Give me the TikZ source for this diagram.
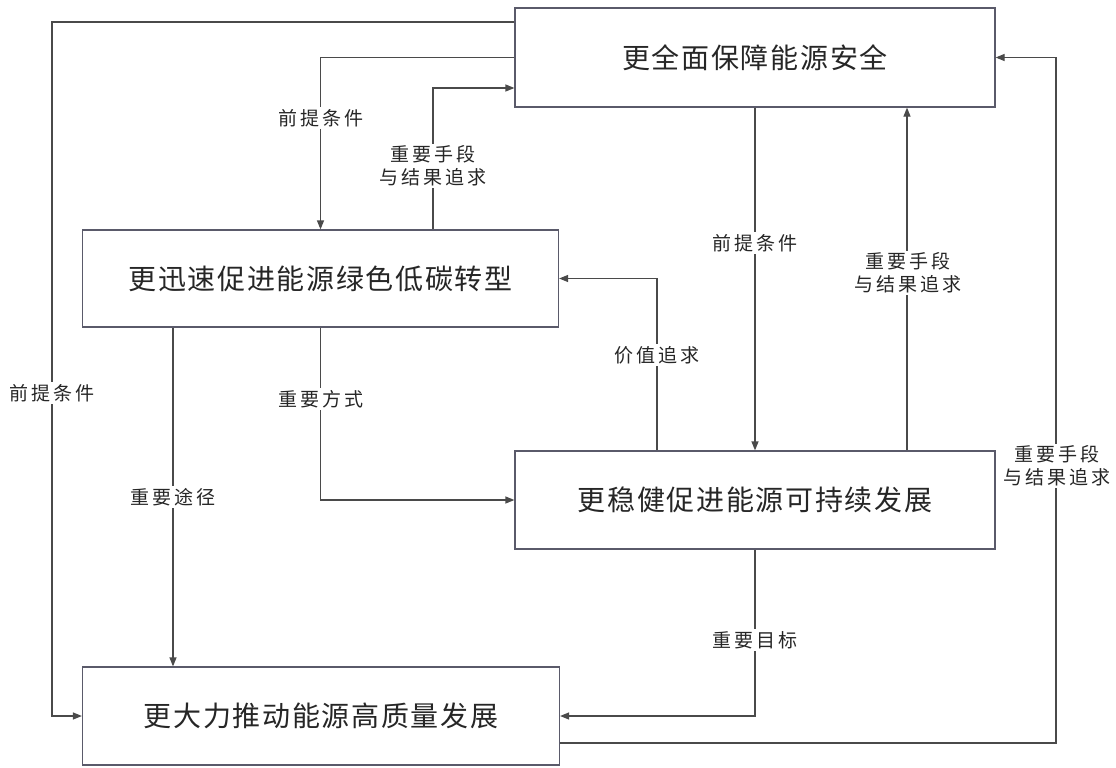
\documentclass[tikz,border=0pt]{standalone}
\usepackage{fontspec}
\usetikzlibrary{arrows.meta,calc}
\newfontfamily\cjkbig[LetterSpace=6]{Noto Sans CJK SC}
\newfontfamily\cjksmall[LetterSpace=15]{Noto Sans CJK SC}
\definecolor{linec}{HTML}{4A4A4A}
\definecolor{boxc}{HTML}{5A5A6A}
\definecolor{textc}{HTML}{262626}
\tikzset{
  box/.style={draw=boxc, line width=1.2pt, rectangle, minimum width=478pt, minimum height=98pt, inner sep=0pt, text=textc, font=\cjkbig\fontsize{28pt}{32pt}\selectfont},
  lab/.style={fill=white, inner sep=2pt, text=textc, align=center, font=\cjksmall\fontsize{19pt}{23pt}\selectfont},
  arr/.style={draw=linec, line width=1.2pt, -{Triangle[length=9pt,width=7pt]}},
}
\begin{document}
\begin{tikzpicture}[x=1pt,y=-1pt]
\useasboundingbox[fill=white] (0,0) rectangle (1116,768);
\node[box, minimum width=480pt, minimum height=99pt] (A) at (755,57.5) {更全面保障能源安全};
\node[box, minimum width=476pt, minimum height=97pt] (B) at (320.5,278.5) {更迅速促进能源绿色低碳转型};
\node[box, minimum width=480pt, minimum height=98pt] (C) at (755,500) {更稳健促进能源可持续发展};
\node[box, minimum width=477pt, minimum height=98pt] (D) at (321,716) {更大力推动能源高质量发展};

% connectors
\draw[arr] (A.west |- 0,22) -- (52,22) |- (D.west);
\draw[arr] (A.west) -| (B.north);
\draw[arr] (B.north -| 433,0) |- (A.west |- 0,88);
\draw[arr] (A.south) -- (C.north);
\draw[arr] (C.north -| 907,0) -- (A.south -| 907,0);
\draw[arr] (C.north -| 657,0) |- (B.east);
\draw[arr] (B.south) |- (C.west);
\draw[arr] (B.south -| 173,0) -- (D.north -| 173,0);
\draw[arr] (C.south) |- (D.east);
\draw[arr] (D.east |- 0,743) -| (A.east -| 1056,0) -- (A.east);

% labels
\node[lab] (l1) at (52,393) {前提条件};
\node[lab] (l2) at (321,118) {前提条件};
\node[lab] (l3) at (433,166) {重要手段\\与结果追求};
\node[lab] (l4) at (755,243) {前提条件};
\node[lab] (l5) at (908,273) {重要手段\\与结果追求};
\node[lab] (l6) at (657,355) {价值追求};
\node[lab] (l7) at (321,399) {重要方式};
\node[lab] (l8) at (173,497) {重要途径};
\node[lab] (l9) at (755,640) {重要目标};
\node[lab] (l10) at (1057,466) {重要手段\\与结果追求};
\end{tikzpicture}
\end{document}
